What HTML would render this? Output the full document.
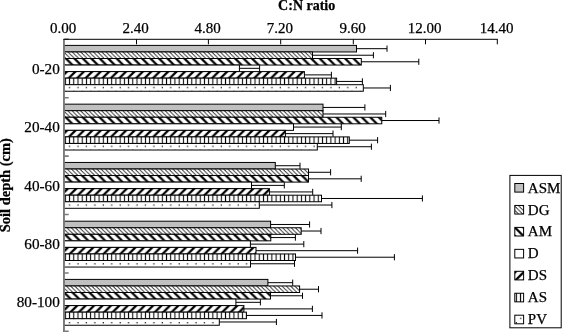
<!DOCTYPE html><html><head><meta charset="utf-8"><style>html,body{margin:0;padding:0;background:#fff;overflow:hidden}svg{display:block}text{font-family:"Liberation Serif","Times New Roman",serif;fill:#000;stroke:#000;stroke-width:0.25px}</style></head><body>
<svg width="562" height="332" viewBox="0 0 562 332">
<defs><pattern id="pDG" width="4.23" height="4.21" patternUnits="userSpaceOnUse"><rect width="4.24" height="4.22" fill="#fff"/><path d="M-5.902,0 L-4.842,0 L-0.612,4.21 L-1.672,4.21ZM-1.672,0 L-0.612,0 L3.618,4.21 L2.558,4.21ZM2.558,0 L3.618,0 L7.848,4.21 L6.788,4.21ZM6.788,0 L7.848,0 L12.078,4.21 L11.018,4.21ZM11.018,0 L12.078,0 L16.308,4.21 L15.248,4.21Z" fill="#000"/></pattern><pattern id="pAM" width="8.46" height="8.42" patternUnits="userSpaceOnUse"><rect width="8.47" height="8.43" fill="#fff"/><path d="M-11.356,0 L-8.186,0 L0.274,8.42 L-2.896,8.42ZM-2.896,0 L0.274,0 L8.734,8.42 L5.564,8.42ZM5.564,0 L8.734,0 L17.194,8.42 L14.024,8.42ZM14.024,0 L17.194,0 L25.654,8.42 L22.484,8.42ZM22.484,0 L25.654,0 L34.114,8.42 L30.944,8.42Z" fill="#000"/></pattern><pattern id="pDS" width="8.43" height="8.42" patternUnits="userSpaceOnUse"><rect width="8.44" height="8.43" fill="#fff"/><path d="M-14.731,0 L-11.571,0 L-20.001,8.42 L-23.161,8.42ZM-6.301,0 L-3.141,0 L-11.571,8.42 L-14.731,8.42ZM2.129,0 L5.289,0 L-3.141,8.42 L-6.301,8.42ZM10.559,0 L13.719,0 L5.289,8.42 L2.129,8.42ZM18.989,0 L22.149,0 L13.719,8.42 L10.559,8.42Z" fill="#000"/></pattern><pattern id="pAS" width="4.215" height="4.215" patternUnits="userSpaceOnUse"><rect width="4.225" height="4.225" fill="#fff"/><rect x="1.595" width="1.05" height="4.3" fill="#000"/></pattern><pattern id="pPV" width="8.43" height="8.4" patternUnits="userSpaceOnUse"><rect width="8.44" height="8.41" fill="#fff"/><rect x="1.57" y="2.9" width="1.2" height="1.2" fill="#000"/><rect x="5.785" y="7.1" width="1.2" height="1.2" fill="#000"/></pattern></defs>
<g>
<rect width="562" height="332" fill="#fff"/>
<text x="306.7" y="9.9" font-size="14" font-weight="bold" text-anchor="middle">C:N ratio</text>
<text x="63" y="32.6" font-size="15" text-anchor="middle">0.00</text>
<text x="135.7" y="32.6" font-size="15" text-anchor="middle">2.40</text>
<text x="207.6" y="32.6" font-size="15" text-anchor="middle">4.80</text>
<text x="279.9" y="32.6" font-size="15" text-anchor="middle">7.20</text>
<text x="352.5" y="32.6" font-size="15" text-anchor="middle">9.60</text>
<text x="424.7" y="32.6" font-size="15" text-anchor="middle">12.00</text>
<text x="496.5" y="32.6" font-size="15" text-anchor="middle">14.40</text>
<rect x="63.8" y="45.4" width="292.7" height="6.55" fill="#c0c0c0" stroke="#000" stroke-width="1"/>
<rect x="63.8" y="51.95" width="248.7" height="6.55" fill="url(#pDG)" stroke="#000" stroke-width="1"/>
<rect x="63.8" y="58.5" width="297.5" height="6.55" fill="url(#pAM)" stroke="#000" stroke-width="1"/>
<rect x="63.8" y="65.05" width="175.6" height="6.55" fill="#fff" stroke="#000" stroke-width="1"/>
<rect x="63.8" y="71.6" width="240.6" height="6.55" fill="url(#pDS)" stroke="#000" stroke-width="1"/>
<rect x="63.8" y="78.15" width="272.8" height="6.55" fill="url(#pAS)" stroke="#000" stroke-width="1"/>
<rect x="63.8" y="84.7" width="299.5" height="6.55" fill="url(#pPV)" stroke="#000" stroke-width="1"/>
<rect x="63.8" y="104.15" width="259.2" height="6.55" fill="#c0c0c0" stroke="#000" stroke-width="1"/>
<rect x="63.8" y="110.7" width="259.2" height="6.55" fill="url(#pDG)" stroke="#000" stroke-width="1"/>
<rect x="63.8" y="117.25" width="318" height="6.55" fill="url(#pAM)" stroke="#000" stroke-width="1"/>
<rect x="63.8" y="123.8" width="229.7" height="6.55" fill="#fff" stroke="#000" stroke-width="1"/>
<rect x="63.8" y="130.35" width="221.6" height="6.55" fill="url(#pDS)" stroke="#000" stroke-width="1"/>
<rect x="63.8" y="136.9" width="285.5" height="6.55" fill="url(#pAS)" stroke="#000" stroke-width="1"/>
<rect x="63.8" y="143.45" width="253.5" height="6.55" fill="url(#pPV)" stroke="#000" stroke-width="1"/>
<rect x="63.8" y="162.45" width="211.5" height="6.55" fill="#c0c0c0" stroke="#000" stroke-width="1"/>
<rect x="63.8" y="169" width="244.7" height="6.55" fill="url(#pDG)" stroke="#000" stroke-width="1"/>
<rect x="63.8" y="175.55" width="244.7" height="6.55" fill="url(#pAM)" stroke="#000" stroke-width="1"/>
<rect x="63.8" y="182.1" width="187.7" height="6.55" fill="#fff" stroke="#000" stroke-width="1"/>
<rect x="63.8" y="188.65" width="205.6" height="6.55" fill="url(#pDS)" stroke="#000" stroke-width="1"/>
<rect x="63.8" y="195.2" width="257.7" height="6.55" fill="url(#pAS)" stroke="#000" stroke-width="1"/>
<rect x="63.8" y="201.75" width="195.5" height="6.55" fill="url(#pPV)" stroke="#000" stroke-width="1"/>
<rect x="63.8" y="221.2" width="206.8" height="6.55" fill="#c0c0c0" stroke="#000" stroke-width="1"/>
<rect x="63.8" y="227.75" width="237.4" height="6.55" fill="url(#pDG)" stroke="#000" stroke-width="1"/>
<rect x="63.8" y="234.3" width="207" height="6.55" fill="url(#pAM)" stroke="#000" stroke-width="1"/>
<rect x="63.8" y="240.85" width="186.6" height="6.55" fill="#fff" stroke="#000" stroke-width="1"/>
<rect x="63.8" y="247.4" width="192.2" height="6.55" fill="url(#pDS)" stroke="#000" stroke-width="1"/>
<rect x="63.8" y="253.95" width="231.7" height="6.55" fill="url(#pAS)" stroke="#000" stroke-width="1"/>
<rect x="63.8" y="260.5" width="186.7" height="6.55" fill="url(#pPV)" stroke="#000" stroke-width="1"/>
<rect x="63.8" y="279.4" width="204.1" height="6.55" fill="#c0c0c0" stroke="#000" stroke-width="1"/>
<rect x="63.8" y="285.95" width="235.8" height="6.55" fill="url(#pDG)" stroke="#000" stroke-width="1"/>
<rect x="63.8" y="292.5" width="206.7" height="6.55" fill="url(#pAM)" stroke="#000" stroke-width="1"/>
<rect x="63.8" y="299.05" width="172.1" height="6.55" fill="#fff" stroke="#000" stroke-width="1"/>
<rect x="63.8" y="305.6" width="180.1" height="6.55" fill="url(#pDS)" stroke="#000" stroke-width="1"/>
<rect x="63.8" y="312.15" width="182.6" height="6.55" fill="url(#pAS)" stroke="#000" stroke-width="1"/>
<rect x="63.8" y="318.7" width="155.5" height="6.55" fill="url(#pPV)" stroke="#000" stroke-width="1"/>
<path d="M356.5,48.675H387M387,45.575V51.775M312.5,55.225H373.4M373.4,52.125V58.325M361.3,61.775H418.8M418.8,58.675V64.875M239.4,68.325H259.6M259.6,65.225V71.425M304.4,74.875H331.4M331.4,71.775V77.975M336.6,81.425H362.4M362.4,78.325V84.525M363.3,87.975H390.4M390.4,84.875V91.075M323,107.425H364.9M364.9,104.325V110.525M323,113.975H385.7M385.7,110.875V117.075M381.8,120.525H439M439,117.425V123.625M293.5,127.075H341.3M341.3,123.975V130.175M285.4,133.625H333M333,130.525V136.725M349.3,140.175H377.6M377.6,137.075V143.275M317.3,146.725H371.4M371.4,143.625V149.825M275.3,165.725H300M300,162.625V168.825M308.5,172.275H330.6M330.6,169.175V175.375M308.5,178.825H361.2M361.2,175.725V181.925M251.5,185.375H284.3M284.3,182.275V188.475M269.4,191.925H312.7M312.7,188.825V195.025M321.5,198.475H422.4M422.4,195.375V201.575M259.3,205.025H331.9M331.9,201.925V208.125M270.6,224.475H309.6M309.6,221.375V227.575M301.2,231.025H321M321,227.925V234.125M270.8,237.575H295.4M295.4,234.475V240.675M250.4,244.125H303.8M303.8,241.025V247.225M256,250.675H357.6M357.6,247.575V253.775M295.5,257.225H394.4M394.4,254.125V260.325M250.5,263.775H294.5M294.5,260.675V266.875M267.9,282.675H292.7M292.7,279.575V285.775M299.6,289.225H318.5M318.5,286.125V292.325M270.5,295.775H302.5M302.5,292.675V298.875M235.9,302.325H260.4M260.4,299.225V305.425M243.9,308.875H312.4M312.4,305.775V311.975M246.4,315.425H322M322,312.325V318.525M219.3,321.975H276.4M276.4,318.875V325.075" stroke="#000" stroke-width="1" fill="none"/>
<path d="M63.95,39.3V332" stroke="#7a7a7a" stroke-width="1.9" fill="none"/>
<path d="M64.3,39.3H68.7M64.3,97.72H68.7M64.3,156.14H68.7M64.3,214.56H68.7M64.3,272.98H68.7M64.3,331.4H68.7" stroke="#7a7a7a" stroke-width="1.6" fill="none"/>
<path d="M63.3,39.3H497.8M136.5,39.3V44.3M208.4,39.3V44.3M280.7,39.3V44.3M353.3,39.3V44.3M425.5,39.3V44.3M497.3,39.3V44.3" stroke="#000" stroke-width="1" fill="none"/>
<text x="59.8" y="73.81" font-size="15.2" text-anchor="end">0-20</text>
<text x="59.8" y="132.23" font-size="15.2" text-anchor="end">20-40</text>
<text x="59.8" y="190.65" font-size="15.2" text-anchor="end">40-60</text>
<text x="59.8" y="249.07" font-size="15.2" text-anchor="end">60-80</text>
<text x="59.8" y="307.49" font-size="15.2" text-anchor="end">80-100</text>
<text transform="translate(10.3,185.2) rotate(-90)" font-size="14.5" font-weight="bold" text-anchor="middle">Soil depth (cm)</text>
<rect x="509.9" y="175.4" width="51.3" height="152.4" fill="#fff" stroke="#000" stroke-width="1"/>
<rect x="514.8" y="183.5" width="8.8" height="8.6" fill="#c0c0c0" stroke="#000" stroke-width="1"/>
<text x="527.8" y="192.7" font-size="15">ASM</text>
<rect x="514.8" y="205.45" width="8.8" height="8.6" fill="url(#pDG)" stroke="#000" stroke-width="1"/>
<text x="527.8" y="214.53" font-size="15">DG</text>
<rect x="514.8" y="227.4" width="8.8" height="8.6" fill="url(#pAM)" stroke="#000" stroke-width="1"/>
<text x="527.8" y="236.36" font-size="15">AM</text>
<rect x="514.8" y="249.35" width="8.8" height="8.6" fill="#fff" stroke="#000" stroke-width="1"/>
<text x="527.8" y="258.19" font-size="15">D</text>
<rect x="514.8" y="271.3" width="8.8" height="8.6" fill="url(#pDS)" stroke="#000" stroke-width="1"/>
<text x="527.8" y="280.02" font-size="15">DS</text>
<rect x="514.8" y="293.25" width="8.8" height="8.6" fill="url(#pAS)" stroke="#000" stroke-width="1"/>
<text x="527.8" y="301.85" font-size="15">AS</text>
<rect x="514.8" y="315.2" width="8.8" height="8.6" fill="url(#pPV)" stroke="#000" stroke-width="1"/>
<text x="527.8" y="323.68" font-size="15">PV</text>
</g></svg></body></html>
